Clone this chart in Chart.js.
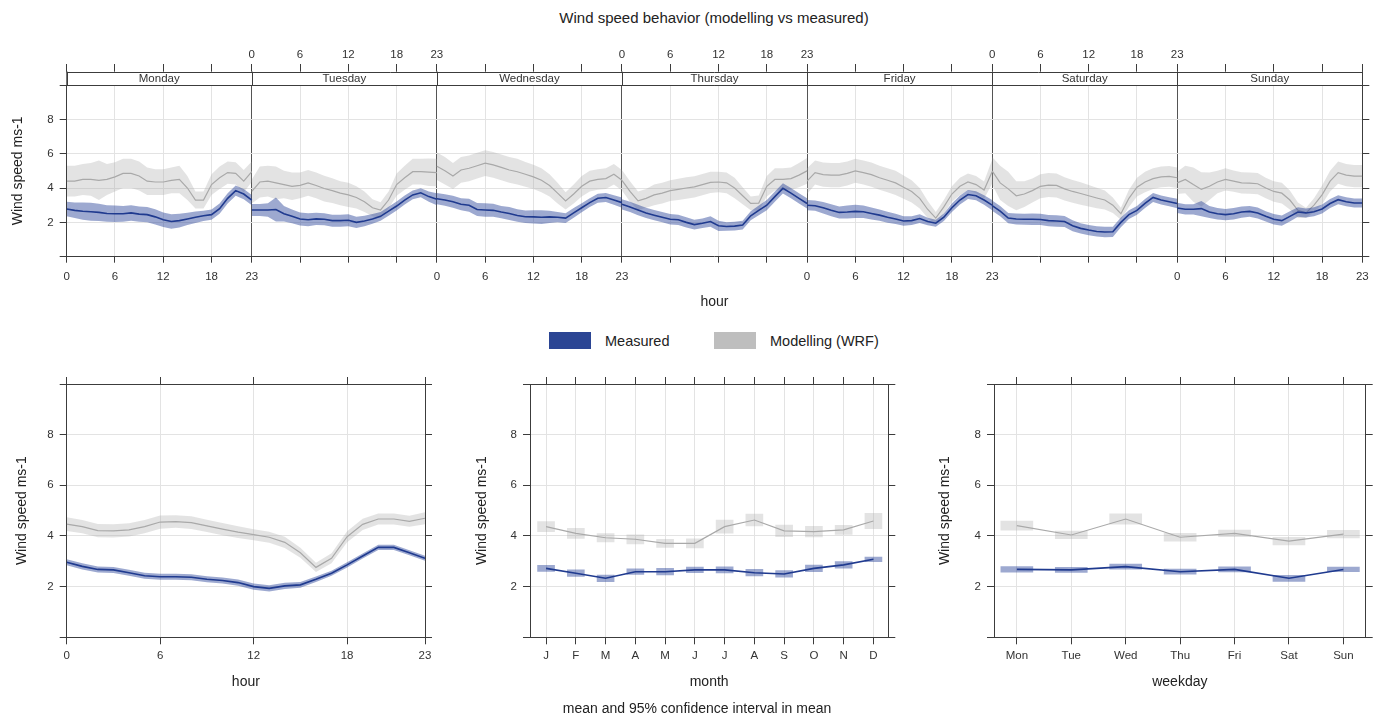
<!DOCTYPE html>
<html>
<head>
<meta charset="utf-8">
<script src="https://cdn.jsdelivr.net/npm/chart.js@4.4.1/dist/chart.umd.min.js"></script>
<style>
  body { margin: 0; background: #fff; font-family: 'Liberation Sans', Arial, sans-serif; color: #222; }
  #page { position: relative; width: 1386px; height: 717px; overflow: hidden; }
  canvas, .txt, .key { position: absolute; }
  .txt { white-space: nowrap; }
</style>
</head>
<body>
<div id="page">
  <div class="txt" style="left:414px;top:9px;width:600px;text-align:center;font-size:15px;line-height:18px;">Wind speed behavior (modelling vs measured)</div>
  <canvas id="cDayHour" width="1386" height="320" style="left:0;top:0;"></canvas>

  <div class="key" style="left:549px;top:332px;width:42px;height:17px;background:#2b4594;"></div>
  <div class="txt" style="left:605px;top:332px;font-size:14.5px;line-height:18px;">Measured</div>
  <div class="key" style="left:714px;top:332px;width:42px;height:17px;background:#bebebe;"></div>
  <div class="txt" style="left:770px;top:332px;font-size:14.5px;line-height:18px;">Modelling (WRF)</div>

  <canvas id="cHour" width="460" height="357" style="left:0;top:360px;"></canvas>
  <canvas id="cMonth" width="460" height="357" style="left:460px;top:360px;"></canvas>
  <canvas id="cWeekday" width="466" height="357" style="left:920px;top:360px;"></canvas>
  <div class="txt" style="left:397px;top:700px;width:600px;text-align:center;font-size:14px;line-height:17px;">mean and 95% confidence interval in mean</div>
</div>

<script>
// ---- dados ----
var days = ["Monday", "Tuesday", "Wednesday", "Thursday", "Friday", "Saturday", "Sunday"];
var hourTicks = [0, 6, 12, 18, 23];
var yTicks = [0, 2, 4, 6, 8, 10];
var monthLabels = ["J", "F", "M", "A", "M", "J", "J", "A", "S", "O", "N", "D"];
var weekdayLabels = ["Mon", "Tue", "Wed", "Thu", "Fri", "Sat", "Sun"];

// média horária por dia da semana (medido)
var measuredDayHour = [
    [2.78,2.7,2.65,2.62,2.58,2.52,2.5,2.5,2.55,2.48,2.45,2.32,2.15,2.05,2.1,2.2,2.3,2.38,2.45,2.8,3.4,3.85,3.65,3.3],
    [2.72,2.72,2.72,2.75,2.5,2.35,2.2,2.15,2.2,2.18,2.1,2.1,2.12,2.0,2.08,2.2,2.35,2.65,2.95,3.3,3.6,3.72,3.5,3.35],
    [3.38,3.3,3.2,3.05,3.0,2.75,2.72,2.7,2.6,2.52,2.4,2.33,2.32,2.3,2.32,2.3,2.25,2.55,2.85,3.15,3.4,3.45,3.3,3.15],
    [3.05,2.9,2.72,2.55,2.42,2.3,2.18,2.15,2.0,1.87,1.95,2.05,1.8,1.76,1.78,1.84,2.38,2.7,3.0,3.5,3.98,3.7,3.4,3.1],
    [3.0,2.97,2.85,2.7,2.58,2.6,2.64,2.62,2.52,2.42,2.3,2.2,2.08,2.1,2.22,2.05,1.95,2.3,2.85,3.3,3.62,3.55,3.3,3.0],
    [2.98,2.65,2.25,2.2,2.18,2.18,2.17,2.1,2.08,2.05,1.8,1.65,1.55,1.47,1.44,1.45,2.0,2.45,2.7,3.1,3.45,3.3,3.2,3.1],
    [2.84,2.76,2.76,2.8,2.6,2.5,2.45,2.5,2.6,2.64,2.55,2.35,2.18,2.1,2.35,2.6,2.55,2.62,2.78,3.1,3.32,3.2,3.13,3.13]
];
// meia largura do intervalo de confiança (medido)
var measuredDayHourCI = [
    [0.42,0.45,0.5,0.52,0.5,0.48,0.48,0.46,0.45,0.45,0.45,0.44,0.42,0.42,0.4,0.36,0.33,0.3,0.3,0.3,0.3,0.3,0.3,0.3],
    [0.35,0.35,0.4,0.7,0.45,0.4,0.38,0.38,0.36,0.35,0.35,0.35,0.35,0.33,0.3,0.28,0.26,0.26,0.26,0.26,0.26,0.26,0.3,0.35],
    [0.33,0.33,0.35,0.35,0.38,0.38,0.4,0.38,0.36,0.38,0.36,0.36,0.38,0.4,0.36,0.3,0.28,0.28,0.26,0.26,0.26,0.26,0.28,0.3],
    [0.3,0.3,0.3,0.3,0.3,0.3,0.3,0.3,0.3,0.28,0.28,0.3,0.3,0.25,0.25,0.25,0.26,0.28,0.3,0.3,0.3,0.3,0.3,0.3],
    [0.3,0.3,0.33,0.35,0.35,0.38,0.38,0.36,0.35,0.33,0.32,0.3,0.28,0.26,0.25,0.22,0.2,0.22,0.25,0.26,0.26,0.26,0.28,0.3],
    [0.3,0.3,0.3,0.32,0.32,0.33,0.33,0.33,0.33,0.32,0.32,0.3,0.3,0.3,0.3,0.3,0.28,0.26,0.26,0.26,0.26,0.26,0.26,0.28],
    [0.3,0.3,0.3,0.45,0.35,0.33,0.33,0.33,0.33,0.32,0.32,0.3,0.3,0.3,0.3,0.28,0.26,0.26,0.26,0.26,0.26,0.26,0.26,0.26]
];
// média horária por dia da semana (modelo WRF)
var modelDayHour = [
    [4.4,4.4,4.5,4.5,4.45,4.5,4.65,4.85,4.85,4.7,4.4,4.35,4.35,4.45,4.5,4.0,3.3,3.3,4.2,4.6,4.9,4.85,4.4,4.95],
    [3.8,4.35,4.4,4.3,4.2,4.1,4.15,4.3,4.15,3.97,3.85,3.7,3.6,3.45,3.2,2.85,2.72,3.3,4.2,4.6,4.95,4.95,4.92,4.9],
    [5.27,5.0,4.7,5.05,5.15,5.3,5.45,5.35,5.2,5.05,4.95,4.8,4.65,4.45,4.15,3.7,3.25,3.65,4.1,4.4,4.5,4.55,4.8,4.45],
    [4.45,3.8,3.25,3.4,3.6,3.7,3.85,3.92,4.0,4.07,4.2,4.33,4.35,4.3,4.0,3.55,3.1,3.12,4.1,4.5,4.5,4.55,4.75,5.0],
    [4.4,4.9,4.78,4.75,4.75,4.85,5.0,4.9,4.78,4.6,4.45,4.3,4.05,3.8,3.4,2.75,2.25,2.9,3.65,4.1,4.35,4.2,3.88,4.95],
    [5.0,4.3,3.95,3.55,3.65,3.85,4.1,4.17,4.15,3.95,3.8,3.68,3.55,3.42,3.3,3.0,2.5,3.4,4.05,4.35,4.55,4.65,4.68,4.6],
    [4.3,4.5,4.2,3.92,4.1,4.35,4.5,4.4,4.3,4.28,4.25,4.0,3.8,3.7,3.3,2.7,2.55,3.0,3.6,4.4,4.9,4.75,4.69,4.69]
];
var modelDayHourCI = [
    [0.9,0.9,0.9,0.95,1.15,0.9,0.85,0.85,0.85,0.85,0.8,0.75,0.75,0.75,0.8,0.7,0.5,0.5,0.6,0.65,0.65,0.65,0.65,0.6],
    [0.7,0.9,0.9,0.95,0.8,0.8,0.75,0.75,0.75,0.75,0.72,0.7,0.7,0.65,0.6,0.5,0.45,0.5,0.65,0.7,0.75,0.75,0.8,0.8],
    [0.8,0.8,0.75,0.75,0.75,0.75,0.75,0.75,0.75,0.75,0.75,0.72,0.7,0.7,0.65,0.6,0.5,0.55,0.6,0.6,0.6,0.6,0.6,0.6],
    [0.6,0.6,0.55,0.55,0.6,0.6,0.6,0.62,0.62,0.62,0.62,0.62,0.6,0.6,0.6,0.5,0.4,0.45,0.6,0.65,0.65,0.65,0.7,0.75],
    [0.75,0.7,0.7,0.7,0.7,0.7,0.7,0.7,0.7,0.7,0.7,0.7,0.68,0.65,0.6,0.5,0.35,0.4,0.45,0.5,0.5,0.5,0.5,0.7],
    [0.8,1.0,1.0,0.85,0.75,0.7,0.7,0.7,0.7,0.68,0.66,0.65,0.62,0.6,0.55,0.45,0.35,0.5,0.55,0.6,0.6,0.6,0.6,0.6],
    [0.65,0.8,1.0,1.0,0.8,0.65,0.65,0.62,0.62,0.62,0.62,0.6,0.6,0.6,0.55,0.45,0.3,0.4,0.55,0.6,0.65,0.65,0.65,0.65]
];

// painel "hour"
var measuredHour = [2.96,2.8,2.68,2.66,2.55,2.43,2.39,2.39,2.37,2.29,2.24,2.16,2.0,1.93,2.03,2.07,2.29,2.53,2.86,3.21,3.55,3.55,3.34,3.12];
var measuredHourCI = [0.12,0.12,0.12,0.12,0.12,0.12,0.12,0.12,0.12,0.12,0.12,0.12,0.12,0.12,0.12,0.11,0.11,0.1,0.1,0.1,0.1,0.1,0.1,0.1];
var modelHour = [4.47,4.37,4.21,4.2,4.24,4.37,4.55,4.57,4.53,4.4,4.27,4.15,4.05,3.95,3.75,3.34,2.76,3.12,3.97,4.46,4.67,4.67,4.58,4.7];
var modelHourCI = [0.27,0.26,0.26,0.26,0.26,0.26,0.26,0.25,0.25,0.24,0.24,0.23,0.22,0.22,0.22,0.2,0.18,0.2,0.22,0.22,0.22,0.22,0.22,0.24];

// painel "month"
var measuredMonth = [2.72,2.53,2.33,2.59,2.59,2.66,2.66,2.55,2.5,2.72,2.86,3.08];
var measuredMonthCI = [0.12,0.13,0.13,0.11,0.13,0.11,0.12,0.13,0.13,0.13,0.13,0.09];
var modelMonth = [4.37,4.1,3.93,3.87,3.71,3.71,4.37,4.63,4.2,4.17,4.24,4.59];
var modelMonthCI = [0.2,0.2,0.16,0.18,0.16,0.18,0.26,0.23,0.23,0.21,0.18,0.3];

// painel "weekday"
var measuredWeekday = [2.68,2.66,2.79,2.59,2.68,2.33,2.68];
var measuredWeekdayCI = [0.11,0.1,0.1,0.1,0.1,0.12,0.09];
var modelWeekday = [4.41,4.04,4.67,3.95,4.1,3.8,4.07];
var modelWeekdayCI = [0.18,0.15,0.2,0.15,0.13,0.15,0.15];

// ---- estilo ----
var axisColor = "#3c3c3c";
var gridColor = "#e3e3e3";
var textColor = "#333";
var measuredStyle = { line: "#1f3a8f", band: "rgba(38,64,150,0.45)", width: 1.6 };
var modelStyle = { line: "#a9a9a9", band: "rgba(170,170,170,0.33)", width: 1.2 };

Chart.defaults.font.family = "'Liberation Sans', Arial, sans-serif";
Chart.defaults.color = textColor;

// cria as 3 séries de uma faixa: média, limite superior (preenchido até o inferior), limite inferior
function bandSets(xs, mean, ci, st) {
    return [
        { data: xs.map(function (x, i) { return { x: x, y: mean[i] }; }),
          borderColor: st.line, borderWidth: st.width, pointRadius: 0, fill: false },
        { data: xs.map(function (x, i) { return { x: x, y: mean[i] + ci[i] }; }),
          borderColor: "rgba(0,0,0,0)", borderWidth: 0, pointRadius: 0, fill: "+1", backgroundColor: st.band },
        { data: xs.map(function (x, i) { return { x: x, y: mean[i] - ci[i] }; }),
          borderColor: "rgba(0,0,0,0)", borderWidth: 0, pointRadius: 0, fill: false }
    ];
}

function boxSet(mean, ci, st, thickness) {
    return {
        type: "bar", grouped: false, barThickness: thickness, borderWidth: 0,
        backgroundColor: st.band,
        data: mean.map(function (m, i) { return { x: i + 1, y: [m - ci[i], m + ci[i]] }; })
    };
}

function lineSet(mean, st) {
    return {
        data: mean.map(function (m, i) { return { x: i + 1, y: m }; }),
        borderColor: st.line, borderWidth: st.width, pointRadius: 0, fill: false
    };
}

// g = geometria da área do gráfico dentro do canvas, xs = eixo x
function makeChart(id, g, datasets, xs, plugins) {
    function setTicks(list) {
        return function (s) { s.ticks = list.map(function (v) { return { value: v }; }); };
    }
    return new Chart(document.getElementById(id), {
        type: "line",
        data: { datasets: datasets },
        options: {
            responsive: false,
            animation: false,
            events: [],
            layout: { padding: 0 },
            elements: { line: { tension: 0 }, point: { radius: 0 } },
            plugins: { legend: { display: false }, tooltip: { enabled: false } },
            scales: {
                x: {
                    type: "linear", position: "bottom", min: xs.min, max: xs.max, offset: false,
                    afterBuildTicks: setTicks(xs.ticks),
                    afterFit: function (s) { s.height = g.h - g.bottom; },
                    grid: { offset: false, color: xs.gridColor, tickLength: g.xTick, tickColor: axisColor },
                    border: { color: axisColor },
                    ticks: { autoSkip: false, maxRotation: 0, padding: g.xLabelPad, font: { size: 11.5 }, callback: xs.bottomLabel },
                    title: { display: true, text: xs.title, color: "#222", font: { size: 14 }, padding: { top: 0, bottom: g.xTitlePad } }
                },
                x2: {
                    type: "linear", position: "top", min: xs.min, max: xs.max, offset: false,
                    afterBuildTicks: setTicks(xs.ticks),
                    afterFit: function (s) { s.height = g.top; },
                    grid: { offset: false, drawOnChartArea: false, tickLength: g.topTick, tickColor: axisColor },
                    border: { color: axisColor },
                    ticks: { autoSkip: false, maxRotation: 0, padding: g.topLabelPad, font: { size: 11.5 }, callback: xs.topLabel }
                },
                y: {
                    type: "linear", position: "left", min: 0, max: 10,
                    afterBuildTicks: setTicks(yTicks),
                    afterFit: function (s) { s.width = g.left; },
                    grid: {
                        color: function (c) { return (c.tick && (c.tick.value === 0 || c.tick.value === 10)) ? "rgba(0,0,0,0)" : gridColor; },
                        tickLength: 7, tickColor: axisColor
                    },
                    border: { color: axisColor },
                    ticks: { padding: 6, font: { size: 11.5 }, callback: function (v) { return (v === 0 || v === 10) ? "" : v; } },
                    title: { display: true, text: "Wind speed ms-1", color: "#222", font: { size: 14 }, padding: { top: g.yTitlePad, bottom: 0 } }
                },
                y2: {
                    type: "linear", position: "right", min: 0, max: 10,
                    afterBuildTicks: setTicks(yTicks),
                    afterFit: function (s) { s.width = g.w - g.right; },
                    grid: { drawOnChartArea: false, tickLength: 7, tickColor: axisColor },
                    border: { color: axisColor },
                    ticks: { display: false }
                }
            }
        },
        plugins: plugins || []
    });
}

// ---- painel superior: hora x dia da semana ----
var DAY = 23;
var dayHourTicks = [];
days.forEach(function (d, i) {
    [0, 6, 12, 18].forEach(function (h) { dayHourTicks.push(i * DAY + h); });
});
dayHourTicks.push(days.length * DAY);

// rótulos alternados: dias pares embaixo, dias ímpares em cima
function dayHourLabel(parity) {
    return function (v) {
        var d = Math.floor(v / DAY), h = v - d * DAY;
        if (h === 0) {
            if (d < days.length && d % 2 === parity) return "0";
            if (d >= 1 && (d - 1) % 2 === parity) return "23";
            return "";
        }
        return d % 2 === parity ? String(h) : "";
    };
}

var topSets = [];
var topModel = [];
days.forEach(function (d, i) {
    var xs = measuredDayHour[i].map(function (v, h) { return i * DAY + h; });
    topSets = topSets.concat(bandSets(xs, measuredDayHour[i], measuredDayHourCI[i], measuredStyle));
    topModel = topModel.concat(bandSets(xs, modelDayHour[i], modelDayHourCI[i], modelStyle));
});
topSets = topSets.concat(topModel);

// faixa com o nome dos dias (estilo lattice)
var stripPlugin = {
    id: "strip",
    afterDraw: function (chart) {
        var ctx = chart.ctx, a = chart.chartArea, sx = chart.scales.x;
        var top = a.top - 13.3, bottom = a.top;
        ctx.save();
        ctx.fillStyle = "#fff";
        ctx.fillRect(a.left, top, a.right - a.left, bottom - top);
        ctx.strokeStyle = axisColor;
        ctx.lineWidth = 1;
        ctx.beginPath();
        ctx.moveTo(a.left, Math.round(top) + 0.5);
        ctx.lineTo(a.right, Math.round(top) + 0.5);
        ctx.moveTo(a.left, Math.round(bottom) + 0.5);
        ctx.lineTo(a.right, Math.round(bottom) + 0.5);
        for (var i = 0; i <= days.length; i++) {
            var x = Math.round(sx.getPixelForValue(i * DAY)) + 0.5;
            ctx.moveTo(x, top);
            ctx.lineTo(x, bottom);
        }
        ctx.stroke();
        ctx.fillStyle = textColor;
        ctx.font = "11.5px 'Liberation Sans', Arial, sans-serif";
        ctx.textAlign = "center";
        ctx.textBaseline = "middle";
        days.forEach(function (d, i) {
            ctx.fillText(d, sx.getPixelForValue(i * DAY + DAY / 2), (top + bottom) / 2 + 0.5);
        });
        ctx.restore();
    }
};

makeChart("cDayHour",
    { w: 1386, h: 320, left: 66.7, right: 1362.3, top: 85, bottom: 256.7,
      yTitlePad: 9.9, xTick: 6, xLabelPad: 6.8, xTitlePad: 9.9, topTick: 21, topLabelPad: 2.5 },
    topSets,
    { min: 0, max: days.length * DAY, ticks: dayHourTicks, title: "hour",
      gridColor: function (c) {
          var v = c.tick ? c.tick.value : 0;
          if (v === 0 || v === days.length * DAY) return "rgba(0,0,0,0)";
          return v % DAY === 0 ? "#555" : gridColor;
      },
      bottomLabel: dayHourLabel(0), topLabel: dayHourLabel(1) },
    [stripPlugin]);

// ---- painéis inferiores ----
var hours = measuredHour.map(function (v, h) { return h; });
var bottomGeom = { h: 357, top: 24, bottom: 277.3, xTick: 7, xLabelPad: 4.5, xTitlePad: 26.9, topTick: 7, topLabelPad: 2 };
function geom(extra) {
    var g = {};
    Object.keys(bottomGeom).forEach(function (k) { g[k] = bottomGeom[k]; });
    Object.keys(extra).forEach(function (k) { g[k] = extra[k]; });
    return g;
}
function plainGrid(c) {
    return gridColor;
}

makeChart("cHour", geom({ w: 460, left: 66.7, right: 425, yTitlePad: 13.3 }),
    bandSets(hours, measuredHour, measuredHourCI, measuredStyle).concat(bandSets(hours, modelHour, modelHourCI, modelStyle)),
    { min: 0, max: 23, ticks: hourTicks, title: "hour", gridColor: plainGrid,
      bottomLabel: function (v) { return String(v); }, topLabel: function () { return ""; } });

makeChart("cMonth", geom({ w: 460, left: 70, right: 428.3, yTitlePad: 13.3 }),
    [lineSet(measuredMonth, measuredStyle), lineSet(modelMonth, modelStyle),
     boxSet(measuredMonth, measuredMonthCI, measuredStyle, 17), boxSet(modelMonth, modelMonthCI, modelStyle, 17)],
    { min: 0.46, max: 12.5, ticks: monthLabels.map(function (m, i) { return i + 1; }), title: "month", gridColor: plainGrid,
      bottomLabel: function (v) { return monthLabels[v - 1]; }, topLabel: function () { return ""; } });

makeChart("cWeekday", geom({ w: 466, left: 74, right: 445.7, yTitlePad: 16.6 }),
    [lineSet(measuredWeekday, measuredStyle), lineSet(modelWeekday, modelStyle),
     boxSet(measuredWeekday, measuredWeekdayCI, measuredStyle, 32), boxSet(modelWeekday, modelWeekdayCI, modelStyle, 32)],
    { min: 0.58, max: 7.41, ticks: weekdayLabels.map(function (m, i) { return i + 1; }), title: "weekday", gridColor: plainGrid,
      bottomLabel: function (v) { return weekdayLabels[v - 1]; }, topLabel: function () { return ""; } });
</script>
</body>
</html>
